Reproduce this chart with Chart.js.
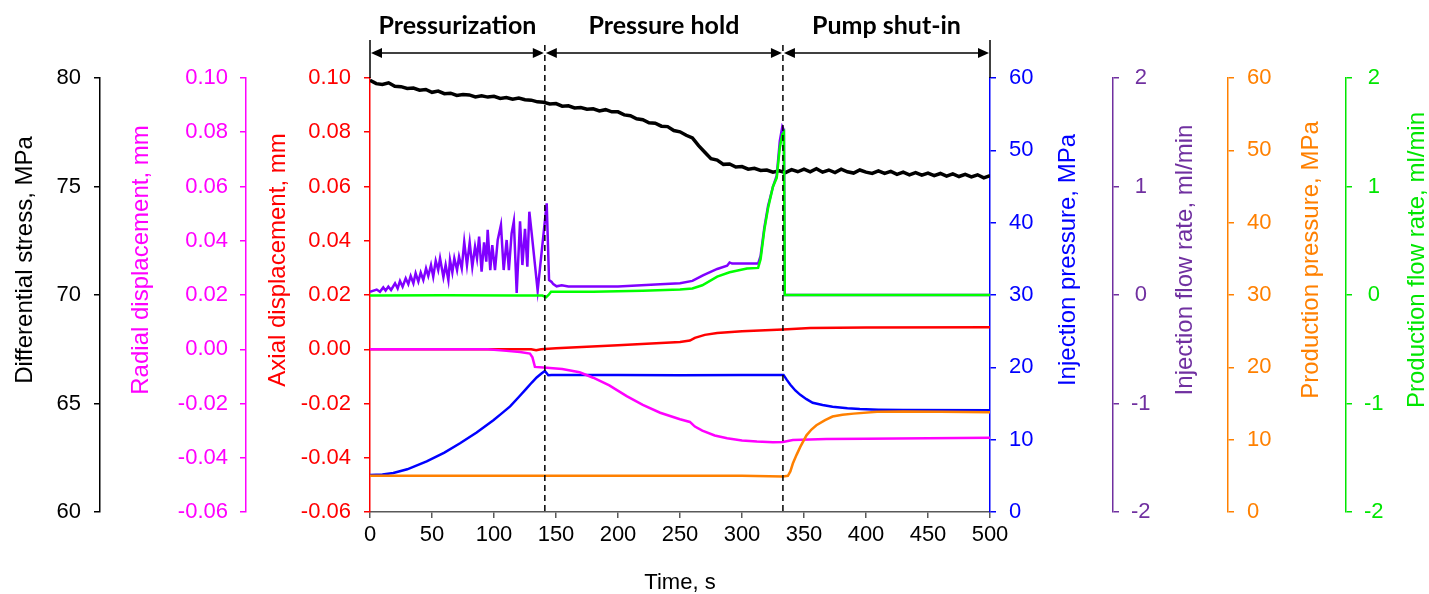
<!DOCTYPE html>
<html>
<head>
<meta charset="utf-8">
<title>Pressurization / hold / shut-in</title>
<script src="https://cdn.jsdelivr.net/npm/chart.js@4.4.1/dist/chart.umd.min.js"></script>
<style>
  html, body { margin: 0; padding: 0; background: #fff; }
  #wrap { width: 1429px; height: 594px; }
</style>
</head>
<body>
<div id="wrap"><canvas id="chart" width="1429" height="594"></canvas></div>
<script>
// phases shown above the plot
const phaseBounds = [0, 141, 333, 500];
const phaseLabels = ["Pressurization", "Pressure hold", "Pump shut-in"];

// differential stress, MPa (black)
const stressTime = [0, 5, 10, 15, 20, 25, 30, 35, 40, 45, 50, 55, 60, 65, 70, 75, 80, 85, 90, 95,
  100, 105, 110, 115, 120, 125, 130, 135, 140, 145, 150, 155, 160, 165, 170, 175, 180, 185, 190, 195,
  200, 205, 210, 215, 220, 225, 230, 235, 240, 245, 250, 255, 260, 265, 270, 275, 280, 285, 290, 295,
  300, 305, 310, 315, 320, 325, 330, 335, 340, 345, 350, 355, 360, 365, 370, 375, 380, 385, 390, 395,
  400, 405, 410, 415, 420, 425, 430, 435, 440, 445, 450, 455, 460, 465, 470, 475, 480, 485, 490, 495, 500];
const stressValues = [79.90, 79.74, 79.70, 79.78, 79.62, 79.60, 79.52, 79.54, 79.44, 79.47,
  79.34, 79.40, 79.28, 79.30, 79.20, 79.24, 79.22, 79.13, 79.18, 79.12,
  79.16, 79.06, 79.10, 79.02, 79.08, 79.00, 78.98, 78.90, 78.88, 78.80,
  78.82, 78.70, 78.72, 78.62, 78.64, 78.56, 78.58, 78.48, 78.54, 78.44,
  78.44, 78.30, 78.26, 78.12, 78.08, 77.94, 77.92, 77.78, 77.76, 77.58,
  77.52, 77.36, 77.24, 76.88, 76.58, 76.28, 76.22, 76.02, 76.04, 75.90,
  75.92, 75.80, 75.84, 75.74, 75.76, 75.66, 75.72, 75.64, 75.78, 75.68,
  75.80, 75.68, 75.82, 75.66, 75.76, 75.64, 75.80, 75.68, 75.62, 75.76,
  75.66, 75.60, 75.72, 75.60, 75.70, 75.56, 75.66, 75.54, 75.64, 75.52,
  75.62, 75.50, 75.60, 75.48, 75.58, 75.46, 75.56, 75.44, 75.54, 75.40, 75.50];

// radial displacement, mm (magenta)
const radialTime = [0, 95, 110, 121, 129, 131, 133, 142.5, 155, 169, 180, 193, 207, 220, 234, 250,
  258, 262, 268, 278, 288, 300, 312, 325, 333, 341, 368, 400, 500];
const radialValues = [0, 0, -0.0006, -0.001, -0.0016, -0.003, -0.0065, -0.0068, -0.0073, -0.0085,
  -0.0105, -0.0133, -0.0173, -0.0205, -0.0234, -0.0258, -0.0268, -0.0285, -0.03, -0.0318, -0.0328,
  -0.0336, -0.034, -0.0343, -0.0342, -0.0335, -0.0331, -0.033, -0.0326];

// axial displacement, mm (red)
const axialTime = [0, 120, 130, 134, 138, 150, 200, 250, 258, 262, 270, 280, 300, 333, 355, 400, 500];
const axialValues = [0, 0, 0, -0.0004, 0, 0.0004, 0.0015, 0.0027, 0.0032, 0.0042, 0.0053, 0.006,
  0.0066, 0.0073, 0.0078, 0.008, 0.0081];

// injection pressure, MPa (blue)
const injPresTime = [0, 10, 18.8, 30, 45.7, 60, 72.6, 86, 99.5, 106, 113, 120, 126.3, 130.5, 134.4,
  138, 141, 143.8, 146.5, 200, 250, 300, 333.5, 336, 339, 343, 347, 352, 357, 365, 373, 385, 395,
  410, 430, 500];
const injPresValues = [5.1, 5.2, 5.4, 5.9, 7.0, 8.2, 9.5, 11.0, 12.7, 13.6, 14.6, 15.9, 17.1, 17.9,
  18.6, 19.1, 19.5, 18.9, 18.95, 18.95, 18.9, 18.95, 18.95, 18.3, 17.6, 16.8, 16.2, 15.6, 15.1, 14.8,
  14.55, 14.35, 14.24, 14.15, 14.1, 14.05];

// injection flow rate, ml/min (purple)
const injFlowTime = [0, 5.4, 8, 10.7, 12.6, 14.8, 17, 20.2, 22.3, 24.2, 26.3, 28.8, 30.9, 32.8, 35,
  36.8, 39, 40.9, 43, 45.2, 47, 49.2, 51, 53, 55, 56.5, 59.2, 61, 63.2, 64.5, 66.4, 68, 70.2, 71.8,
  74, 76, 78.2, 80.4, 82.5, 84.7, 86.3, 88, 90, 92, 93.8, 94.9, 97, 98.6, 100.8, 103, 105.6, 107.8,
  110.2, 112, 114.2, 116, 118.3, 121, 122.9, 125, 126.9, 128.5, 130.4, 135.2, 142.5, 144.4, 146.5,
  147.8, 150.5, 154.6, 160, 200, 234, 250, 260, 268.5, 280, 288, 290, 292, 313, 315, 318, 321, 325,
  328, 330.5, 332.5, 333.8, 334.5, 500];
const injFlowValues = [0.03, 0.05, 0.03, 0.07, 0.04, 0.077, 0.046, 0.108, 0.06, 0.13, 0.077, 0.154,
  0.1, 0.175, 0.108, 0.2, 0.123, 0.207, 0.138, 0.245, 0.175, 0.276, 0.169, 0.316, 0.23, 0.338, 0.164,
  0.276, 0.138, 0.323, 0.207, 0.338, 0.23, 0.353, 0.245, 0.49, 0.276, 0.485, 0.26, 0.445, 0.338,
  0.538, 0.215, 0.485, 0.307, 0.6, 0.23, 0.46, 0.23, 0.507, 0.645, 0.23, 0.507, 0.23, 0.568, 0.68,
  0.02, 0.68, 0.276, 0.61, 0.26, 0.768, 0.568, 0.04, 0.845, 0.138, 0.12, 0.1, 0.08, 0.09, 0.078,
  0.078, 0.1, 0.108, 0.13, 0.18, 0.24, 0.27, 0.3, 0.29, 0.29, 0.36, 0.62, 0.82, 1.0, 1.1, 1.42,
  1.55, 1.52, 0, 0];

// production pressure, MPa (orange)
const prodPresTime = [0, 100, 200, 300, 333, 337, 339, 341, 344, 347, 352, 356, 360, 367, 373, 381,
  390, 409, 430, 460, 500];
const prodPresValues = [5.0, 5.0, 5.0, 5.0, 4.9, 5.0, 5.6, 6.7, 7.9, 9.0, 10.6, 11.4, 12.0, 12.7, 13.2,
  13.45, 13.6, 13.85, 13.9, 13.85, 13.8];

// production flow rate, ml/min (green)
const prodFlowTime = [0, 60, 120, 139, 142, 144, 146, 180, 220, 250, 260, 268, 280, 290, 304, 313,
  315, 318, 321, 325, 328, 330.5, 332.5, 333.8, 334.5, 500];
const prodFlowValues = [-0.005, -0.003, -0.005, -0.005, -0.02, 0, 0.03, 0.03, 0.04, 0.05, 0.06, 0.09,
  0.17, 0.21, 0.245, 0.25, 0.33, 0.6, 0.8, 1.0, 1.08, 1.36, 1.48, 1.5, 0, 0];

const axisTitles = [
  { id: "yStress", text: "Differential stress, MPa", color: "#000000", dx: 25 },
  { id: "yRadial", text: "Radial displacement, mm", color: "#FF00FF", dx: 41 },
  { id: "yAxial", text: "Axial displacement, mm", color: "#FF0000", dx: 32 },
  { id: "yInjP", text: "Injection pressure, MPa", color: "#0000FF", dx: 78 },
  { id: "yInjQ", text: "Injection flow rate, ml/min", color: "#7030A0", dx: 72 },
  { id: "yProdP", text: "Production pressure, MPa", color: "#FF8000", dx: 83 },
  { id: "yProdQ", text: "Production flow rate, ml/min", color: "#00E600", dx: 71 },
];

const pts = (ts, vs) => ts.map((t, i) => ({ x: t, y: vs[i] }));
const TICK_FONT = { family: "'Liberation Sans', Arial, sans-serif", size: 22 };
const twoDec = (v) => (Math.abs(v) < 1e-9 ? "0.00" : Number(v).toFixed(2));

function yAxis(position, weight, color, min, max, step, width, padding, tickExtra) {
  return {
    type: "linear",
    position,
    weight,
    min,
    max,
    grid: { drawOnChartArea: false, color, tickLength: 6, lineWidth: 1.5 },
    border: { color, width: 1.5 },
    ticks: Object.assign({ stepSize: step, color, font: TICK_FONT, padding }, tickExtra || {}),
    afterFit: (s) => { s.width = width; },
  };
}

const overlay = {
  id: "overlay",
  afterDraw(chart) {
    const { ctx, chartArea, scales } = chart;
    const xs = phaseBounds.map((v) => scales.x.getPixelForValue(v));
    const top = chartArea.top;
    const yArrow = top - 25;
    ctx.save();

    // solid end bars and dashed phase dividers
    ctx.strokeStyle = "#000";
    ctx.lineWidth = 1.5;
    [xs[0], xs[3]].forEach((x) => {
      ctx.beginPath();
      ctx.moveTo(x, top - 38);
      ctx.lineTo(x, top);
      ctx.stroke();
    });
    ctx.setLineDash([6, 4]);
    [xs[1], xs[2]].forEach((x) => {
      ctx.beginPath();
      ctx.moveTo(x, top - 33);
      ctx.lineTo(x, chartArea.bottom);
      ctx.stroke();
    });
    ctx.setLineDash([]);

    // double arrows with phase names
    ctx.fillStyle = "#000";
    for (let i = 0; i < 3; i++) {
      const a = xs[i] + 1, b = xs[i + 1] - 1;
      ctx.beginPath();
      ctx.moveTo(a + 8, yArrow);
      ctx.lineTo(b - 8, yArrow);
      ctx.stroke();
      ctx.beginPath();
      ctx.moveTo(a, yArrow);
      ctx.lineTo(a + 11, yArrow - 5);
      ctx.lineTo(a + 11, yArrow + 5);
      ctx.closePath();
      ctx.fill();
      ctx.beginPath();
      ctx.moveTo(b, yArrow);
      ctx.lineTo(b - 11, yArrow - 5);
      ctx.lineTo(b - 11, yArrow + 5);
      ctx.closePath();
      ctx.fill();

      ctx.font = "bold 25px Lato, 'Open Sans', sans-serif";
      ctx.textAlign = "center";
      ctx.textBaseline = "middle";
      ctx.fillText(phaseLabels[i], (xs[i] + xs[i + 1]) / 2, 26);
    }

    // rotated y titles, all reading bottom-to-top
    const midY = (chartArea.top + chartArea.bottom) / 2 - 35;
    ctx.font = "24px 'Liberation Sans', Arial, sans-serif";
    axisTitles.forEach((t) => {
      const s = scales[t.id];
      ctx.save();
      ctx.translate(s.left + t.dx, midY);
      ctx.rotate(-Math.PI / 2);
      ctx.fillStyle = t.color;
      ctx.textAlign = "center";
      ctx.textBaseline = "middle";
      ctx.fillText(t.text, 0, 0);
      ctx.restore();
    });
    ctx.restore();
  },
};

const line = (data, color, axis, width) => ({
  data,
  borderColor: color,
  borderWidth: width || 2.5,
  pointRadius: 0,
  tension: 0,
  yAxisID: axis,
});

new Chart(document.getElementById("chart"), {
  type: "line",
  data: {
    datasets: [
      line(pts(prodFlowTime, prodFlowValues), "#00FF00", "yProdQ"),
      line(pts(injFlowTime, injFlowValues), "#8000FF", "yInjQ"),
      line(pts(stressTime, stressValues), "#000000", "yStress", 3.5),
      line(pts(prodPresTime, prodPresValues), "#FF8000", "yProdP"),
      line(pts(radialTime, radialValues), "#FF00FF", "yRadial"),
      line(pts(axialTime, axialValues), "#FF0000", "yAxial"),
      line(pts(injPresTime, injPresValues), "#0000FF", "yInjP"),
    ],
  },
  options: {
    responsive: false,
    animation: false,
    devicePixelRatio: 1,
    layout: { padding: { top: 78, left: 0, right: 0, bottom: 0 } },
    plugins: { legend: { display: false }, tooltip: { enabled: false } },
    scales: {
      x: {
        type: "linear",
        position: "bottom",
        min: 0,
        max: 500,
        grid: { drawOnChartArea: false, color: "#595959", tickLength: 6, lineWidth: 1.5 },
        border: { color: "#595959", width: 1.5 },
        ticks: { stepSize: 50, color: "#000", font: TICK_FONT, padding: 4, maxRotation: 0, autoSkip: false },
        title: {
          display: true,
          text: "Time, s",
          color: "#000",
          font: { family: "'Liberation Sans', Arial, sans-serif", size: 22, lineHeight: 1 },
          padding: { top: 0, bottom: 0 },
        },
        afterFit: (s) => { s.height = 82; },
      },
      yStress: yAxis("left", 3, "#000000", 60, 80, 5, 100, 13),
      yRadial: yAxis("left", 2, "#FF00FF", -0.06, 0.1, 0.02, 146, 12, { callback: twoDec }),
      yAxial: yAxis("left", 1, "#FF0000", -0.06, 0.1, 0.02, 124, 13, { callback: twoDec }),
      yInjP: yAxis("right", 1, "#0000FF", 0, 60, 10, 123, 13),
      yInjQ: yAxis("right", 2, "#7030A0", -2, 2, 1, 115, 12, { crossAlign: "center" }),
      yProdP: yAxis("right", 3, "#FF8000", 0, 60, 10, 118, 13),
      yProdQ: yAxis("right", 4, "#00E600", -2, 2, 1, 83, 12, { crossAlign: "center" }),
    },
  },
  plugins: [overlay],
});
</script>
</body>
</html>
